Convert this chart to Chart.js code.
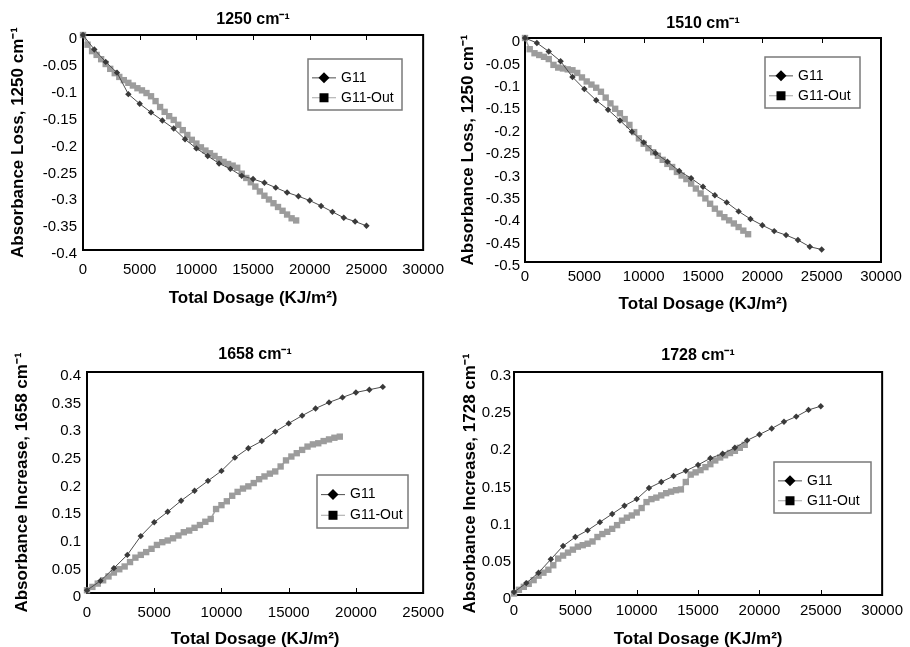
<!DOCTYPE html>
<html>
<head>
<meta charset="utf-8">
<title>Absorbance change vs total dosage</title>
<script src="https://cdn.jsdelivr.net/npm/chart.js@4.4.1/dist/chart.umd.min.js"></script>
<style>
  html, body { margin: 0; padding: 0; background: #fff; overflow: hidden; }
  .panel { position: absolute; width: 455px; }
</style>
</head>
<body>
<div class="panel" style="left:0;top:0"><canvas id="c1250" width="455" height="320"></canvas></div>
<div class="panel" style="left:455px;top:0"><canvas id="c1510" width="455" height="320"></canvas></div>
<div class="panel" style="left:0;top:320px"><canvas id="c1658" width="455" height="340"></canvas></div>
<div class="panel" style="left:455px;top:320px"><canvas id="c1728" width="455" height="340"></canvas></div>
<script>
// total dosage (KJ/m2) of the readings
const g11Dose = [0, 1000, 2000, 3000, 4000, 5000, 6000, 7000, 8000, 9000, 10000, 11000, 12000,
  13000, 14000, 15000, 16000, 17000, 18000, 19000, 20000, 21000, 22000, 23000, 24000, 25000];
const outDose = [0, 400, 800, 1200, 1600, 2000, 2400, 2800, 3200, 3600, 4000, 4400, 4800, 5200,
  5600, 6000, 6400, 6800, 7200, 7600, 8000, 8400, 8800, 9200, 9600, 10000, 10400, 10800, 11200,
  11600, 12000, 12400, 12800, 13200, 13600, 14000, 14400, 14800, 15200, 15600, 16000, 16400,
  16800, 17200, 17600, 18000, 18400, 18800];

// 1250 cm-1, absorbance loss
const g11_1250 = [0, -0.027, -0.050, -0.070, -0.110, -0.128, -0.144, -0.159, -0.174, -0.194, -0.211,
  -0.225, -0.239, -0.249, -0.262, -0.268, -0.275, -0.284, -0.293, -0.300, -0.308, -0.318, -0.329,
  -0.340, -0.347, -0.355];
const out_1250 = [0, -0.018, -0.030, -0.037, -0.045, -0.054, -0.063, -0.071, -0.078, -0.084, -0.089,
  -0.094, -0.099, -0.103, -0.108, -0.114, -0.123, -0.134, -0.143, -0.151, -0.158, -0.167, -0.177,
  -0.186, -0.195, -0.202, -0.209, -0.215, -0.220, -0.225, -0.231, -0.236, -0.240, -0.243, -0.247,
  -0.258, -0.266, -0.274, -0.282, -0.291, -0.299, -0.306, -0.313, -0.320, -0.327, -0.334, -0.341, -0.345];

// 1510 cm-1, absorbance loss
const g11_1510 = [0, -0.011, -0.030, -0.052, -0.087, -0.114, -0.139, -0.160, -0.184, -0.209, -0.233,
  -0.257, -0.276, -0.297, -0.313, -0.332, -0.351, -0.367, -0.387, -0.404, -0.418, -0.431, -0.440,
  -0.451, -0.466, -0.472];
const out_1510 = [0, -0.025, -0.034, -0.038, -0.042, -0.047, -0.060, -0.066, -0.068, -0.070, -0.072,
  -0.078, -0.088, -0.097, -0.104, -0.111, -0.120, -0.133, -0.146, -0.158, -0.168, -0.181, -0.194,
  -0.210, -0.224, -0.236, -0.246, -0.255, -0.263, -0.272, -0.281, -0.288, -0.299, -0.307, -0.315,
  -0.325, -0.336, -0.347, -0.358, -0.370, -0.381, -0.392, -0.400, -0.407, -0.414, -0.422, -0.430, -0.438];

// 1658 cm-1, absorbance increase
const g11_1658 = [0.005, 0.022, 0.045, 0.069, 0.103, 0.128, 0.147, 0.167, 0.185, 0.203, 0.221, 0.245,
  0.262, 0.275, 0.292, 0.307, 0.321, 0.334, 0.345, 0.354, 0.363, 0.368, 0.373];
const out_1658 = [0.005, 0.011, 0.017, 0.023, 0.030, 0.037, 0.043, 0.048, 0.056, 0.064, 0.069, 0.074,
  0.080, 0.087, 0.092, 0.095, 0.099, 0.104, 0.110, 0.113, 0.118, 0.123, 0.129, 0.134, 0.152, 0.159,
  0.166, 0.176, 0.183, 0.189, 0.193, 0.199, 0.206, 0.211, 0.216, 0.220, 0.229, 0.240, 0.247, 0.253,
  0.259, 0.265, 0.269, 0.271, 0.275, 0.278, 0.281, 0.283];

// 1728 cm-1, absorbance increase
const g11_1728 = [0.004, 0.016, 0.030, 0.048, 0.066, 0.078, 0.087, 0.098, 0.109, 0.120, 0.129, 0.144,
  0.152, 0.160, 0.167, 0.175, 0.184, 0.190, 0.198, 0.208, 0.216, 0.224, 0.233, 0.240, 0.249, 0.254];
const out_1728 = [0.002, 0.007, 0.011, 0.015, 0.020, 0.026, 0.030, 0.034, 0.040, 0.049, 0.053, 0.057,
  0.061, 0.065, 0.067, 0.069, 0.072, 0.078, 0.082, 0.085, 0.089, 0.094, 0.100, 0.104, 0.107, 0.111,
  0.117, 0.125, 0.129, 0.131, 0.134, 0.137, 0.139, 0.141, 0.142, 0.152, 0.162, 0.165, 0.168, 0.172,
  0.176, 0.181, 0.185, 0.188, 0.191, 0.194, 0.198, 0.202];

const FONT = "'Liberation Sans', Arial, Helvetica, sans-serif";
Chart.defaults.font.family = FONT;
Chart.defaults.color = '#000';

// box around the plot, tick marks on the y = 0 axis line, and the boxed legend
const framePlugin = {
  id: 'frame',
  beforeDatasetsDraw(chart) {
    const { ctx, chartArea: a, scales: { x, y } } = chart;
    ctx.save();
    ctx.strokeStyle = '#000';
    ctx.lineWidth = 2;
    ctx.strokeRect(a.left, a.top, a.width, a.height);
    const y0 = y.getPixelForValue(0);
    const dir = y0 < (a.top + a.bottom) / 2 ? 1 : -1;
    ctx.lineWidth = 1;
    x.ticks.forEach(t => {
      const px = Math.round(x.getPixelForValue(t.value)) + 0.5;
      ctx.beginPath();
      ctx.moveTo(px, y0);
      ctx.lineTo(px, y0 + dir * 5);
      ctx.stroke();
    });
    ctx.restore();
  },
  afterDraw(chart, args, opts) {
    const b = opts.box;
    if (!b) return;
    const ctx = chart.ctx;
    ctx.save();
    ctx.fillStyle = '#fff';
    ctx.fillRect(b.left, b.top, b.width, b.height);
    ctx.strokeStyle = '#7a7a7a';
    ctx.lineWidth = 1.5;
    ctx.strokeRect(b.left, b.top, b.width, b.height);
    const rows = [0.37, 0.76];
    chart.data.datasets.forEach((ds, i) => {
      const cy = b.top + b.height * rows[i];
      const cx = b.left + 16;
      ctx.strokeStyle = ds.borderColor;
      ctx.lineWidth = 1;
      ctx.beginPath();
      ctx.moveTo(b.left + 4, cy);
      ctx.lineTo(b.left + 28, cy);
      ctx.stroke();
      ctx.fillStyle = '#000';
      ctx.beginPath();
      if (ds.pointStyle === 'rectRot') {
        ctx.moveTo(cx - 5.5, cy);
        ctx.lineTo(cx, cy - 5.5);
        ctx.lineTo(cx + 5.5, cy);
        ctx.lineTo(cx, cy + 5.5);
        ctx.closePath();
      } else {
        ctx.rect(cx - 4.5, cy - 4.5, 9, 9);
      }
      ctx.fill();
      ctx.font = '14px ' + FONT;
      ctx.textBaseline = 'middle';
      ctx.textAlign = 'left';
      ctx.fillText(ds.label, b.left + 33, cy);
    });
    ctx.restore();
  }
};

function pairs(xs, ys) {
  return ys.map((v, i) => ({ x: xs[i], y: v }));
}

function panel(id, p) {
  const W = 455, H = p.h;
  const [left, top, right, bottom] = p.area;
  return new Chart(document.getElementById(id), {
    type: 'line',
    data: {
      datasets: [
        {
          label: 'G11', data: pairs(g11Dose, p.g11), clip: false,
          borderColor: '#4d4d4d', borderWidth: 1, tension: 0,
          pointStyle: 'rectRot', pointRadius: 3.2, pointBorderWidth: 0,
          pointBackgroundColor: '#3a3a3a'
        },
        {
          label: 'G11-Out', data: pairs(outDose, p.out), clip: false,
          borderColor: '#a6a6a6', borderWidth: 1.5, tension: 0,
          pointStyle: 'rect', pointRadius: 4.5, pointBorderWidth: 0,
          pointBackgroundColor: '#9c9c9c'
        }
      ]
    },
    options: {
      responsive: false,
      animation: false,
      events: [],
      layout: { padding: { left: 0, top: 0, right: W - right, bottom: 0 } },
      plugins: {
        legend: { display: false },
        tooltip: { enabled: false },
        title: {
          display: true, fullSize: false, text: p.title, color: '#000',
          font: { size: 16, weight: 'bold' },
          padding: { top: p.titleY - 9.6, bottom: top - p.titleY - 9.6 }
        },
        frame: { box: p.legend }
      },
      scales: {
        x: {
          type: 'linear', min: 0, max: p.xMax,
          grid: { display: false, drawTicks: false },
          border: { display: false },
          ticks: {
            stepSize: 5000, autoSkip: false, maxRotation: 0, color: '#000',
            font: { size: 15 }, padding: p.xLabelY - bottom - 9,
            callback: v => String(v)
          },
          title: {
            display: true, text: 'Total Dosage (KJ/m\u00B2)', color: '#000',
            font: { size: 17, weight: 'bold' },
            padding: { top: 0, bottom: H - p.xTitleY - 10.2 }
          },
          afterFit: s => { s.height = H - bottom; }
        },
        y: {
          type: 'linear', min: p.yMin, max: p.yMax,
          grid: { display: false, drawTicks: false },
          border: { display: false },
          ticks: {
            stepSize: 0.05, color: '#000', font: { size: 15 },
            padding: p.yLabelGap, labelOffset: 4,
            callback: v => String(Math.round(v * 1000) / 1000)
          },
          title: {
            display: true, text: p.yTitle, color: '#000',
            font: { size: 17, weight: 'bold' },
            padding: { top: p.yTitleX - 10.2, bottom: 0 }
          },
          afterFit: s => { s.width = left; }
        }
      }
    },
    plugins: [framePlugin]
  });
}

panel('c1250', {
  h: 320, area: [83, 35, 426, 250], title: '1250 cm\u207B\u00B9',
  yTitle: 'Absorbance Loss, 1250 cm\u207B\u00B9', yMin: -0.4, yMax: 0, xMax: 30000,
  g11: g11_1250, out: out_1250,
  titleY: 20, xLabelY: 270, xTitleY: 298, yTitleX: 18, yLabelGap: 6,
  legend: { left: 308, top: 59, width: 94, height: 51 }
});

panel('c1510', {
  h: 320, area: [70, 38, 426, 262], title: '1510 cm\u207B\u00B9',
  yTitle: 'Absorbance Loss, 1250 cm\u207B\u00B9', yMin: -0.5, yMax: 0, xMax: 30000,
  g11: g11_1510, out: out_1510,
  titleY: 24, xLabelY: 277, xTitleY: 304, yTitleX: 13, yLabelGap: 5,
  legend: { left: 310, top: 57, width: 95, height: 51 }
});

panel('c1658', {
  h: 340, area: [87, 52, 428, 273], title: '1658 cm\u207B\u00B9',
  yTitle: 'Absorbance Increase, 1658 cm\u207B\u00B9', yMin: 0, yMax: 0.4, xMax: 25000,
  g11: g11_1658, out: out_1658,
  titleY: 35, xLabelY: 293, xTitleY: 319, yTitleX: 22, yLabelGap: 6,
  legend: { left: 317, top: 155, width: 91, height: 53 }
});

panel('c1728', {
  h: 340, area: [59, 52, 430, 275], title: '1728 cm\u207B\u00B9',
  yTitle: 'Absorbance Increase, 1728 cm\u207B\u00B9', yMin: 0, yMax: 0.3, xMax: 30000,
  g11: g11_1728, out: out_1728,
  titleY: 36, xLabelY: 291, xTitleY: 319, yTitleX: 15, yLabelGap: 3,
  legend: { left: 319, top: 142, width: 97, height: 51 }
});
</script>
</body>
</html>
